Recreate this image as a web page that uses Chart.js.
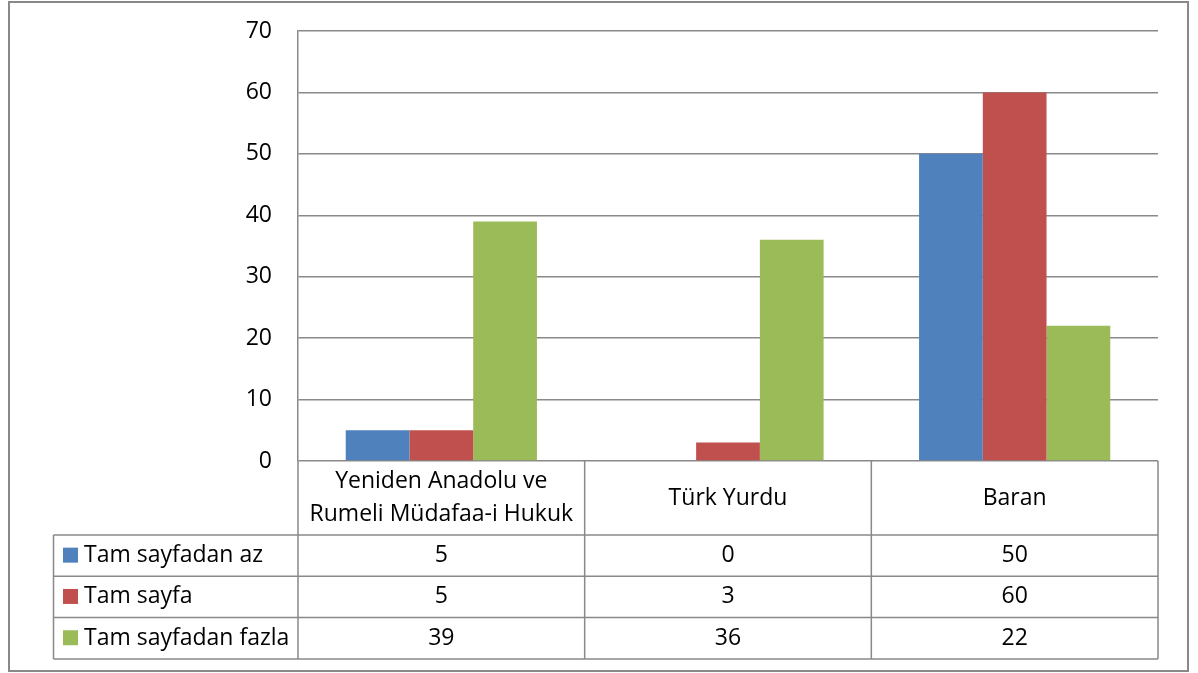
<!DOCTYPE html>
<html>
<head>
<meta charset="utf-8">
<script src="https://cdn.jsdelivr.net/npm/chart.js@4.4.1/dist/chart.umd.min.js"></script>
<style>
  html, body { margin: 0; padding: 0; background: #ffffff; }
  #wrap { width: 1198px; height: 673px; }
</style>
</head>
<body>
<div id="wrap"><canvas id="chart" width="1198" height="673"></canvas></div>
<script>
const categories = [["Yeniden Anadolu ve", "Rumeli Müdafaa-i Hukuk"], ["Türk Yurdu"], ["Baran"]];
const seriesNames = ["Tam sayfadan az", "Tam sayfa", "Tam sayfadan fazla"];
const tamSayfadanAz = [5, 0, 50];
const tamSayfa = [5, 3, 60];
const tamSayfadanFazla = [39, 36, 22];
const yTicks = [0, 10, 20, 30, 40, 50, 60, 70];

const colors = ['#4F81BD', '#C0504D', '#9BBB59'];
const lineColor = '#898989';
const font = '"Open Sans", "Noto Sans", sans-serif';

// draws the outer frame and the data table under the plot
const dataTable = {
    id: 'dataTable',
    beforeDraw(chart) {
        const ctx = chart.ctx;
        ctx.save();
        ctx.fillStyle = '#ffffff';
        ctx.fillRect(0, 0, chart.width, chart.height);
        ctx.strokeStyle = lineColor;
        ctx.lineWidth = 2;
        ctx.strokeRect(9, 2, 1179, 669);
        ctx.restore();
    },
    afterDraw(chart) {
        const ctx = chart.ctx;
        const area = chart.chartArea;
        const x = chart.scales.x;
        const top = area.bottom;
        const headerBottom = top + 74;
        const rowH = 41.3;
        const bottom = headerBottom + rowH * 3;
        const tableLeft = 53.5;
        const colW = (area.right - area.left) / categories.length;
        const rows = [tamSayfadanAz, tamSayfa, tamSayfadanFazla];

        ctx.save();
        ctx.strokeStyle = lineColor;
        ctx.lineWidth = 1.5;
        ctx.beginPath();
        // horizontal lines
        for (let r = 0; r <= 3; r++) {
            const yy = headerBottom + rowH * r;
            ctx.moveTo(tableLeft, yy);
            ctx.lineTo(area.right, yy);
        }
        // vertical lines
        ctx.moveTo(tableLeft, headerBottom);
        ctx.lineTo(tableLeft, bottom);
        for (let c = 0; c <= categories.length; c++) {
            const xx = area.left + colW * c;
            ctx.moveTo(xx, top);
            ctx.lineTo(xx, bottom);
        }
        ctx.stroke();

        ctx.fillStyle = '#000000';
        ctx.font = '23px ' + font;
        ctx.textAlign = 'center';
        ctx.textBaseline = 'middle';
        categories.forEach((lines, i) => {
            const cx = x.getPixelForValue(i);
            const mid = (top + headerBottom) / 2;
            const lh = 33;
            lines.forEach((t, j) => {
                ctx.fillText(t, cx, mid + (j - (lines.length - 1) / 2) * lh);
            });
        });

        rows.forEach((vals, r) => {
            const cy = headerBottom + rowH * r + rowH / 2;
            vals.forEach((v, i) => {
                ctx.textAlign = 'center';
                ctx.fillText(String(v), x.getPixelForValue(i), cy);
            });
            ctx.fillStyle = colors[r];
            ctx.fillRect(63, cy - 8, 15, 15);
            ctx.fillStyle = '#000000';
            ctx.textAlign = 'left';
            ctx.fillText(seriesNames[r], 84, cy);
        });
        ctx.restore();
    }
};

const chart = new Chart(document.getElementById('chart').getContext('2d'), {
    type: 'bar',
    data: {
        labels: categories,
        datasets: [
            { label: seriesNames[0], data: tamSayfadanAz, backgroundColor: colors[0] },
            { label: seriesNames[1], data: tamSayfa, backgroundColor: colors[1] },
            { label: seriesNames[2], data: tamSayfadanFazla, backgroundColor: colors[2] }
        ]
    },
    options: {
        responsive: false,
        animation: false,
        devicePixelRatio: 1,
        layout: { padding: { left: 0, top: 31, right: 40, bottom: 212 } },
        datasets: { bar: { barPercentage: 1, categoryPercentage: 0.667 } },
        plugins: {
            legend: { display: false },
            tooltip: { enabled: false }
        },
        scales: {
            x: {
                display: false
            },
            y: {
                min: 0,
                max: 70,
                afterFit: s => { s.width = 298; },
                afterBuildTicks: s => { s.ticks = yTicks.map(v => ({ value: v })); },
                ticks: {
                    padding: 0,
                    color: '#000000',
                    font: { family: font, size: 23 }
                },
                grid: { color: lineColor, lineWidth: 1.5, drawTicks: true, tickLength: 26, tickColor: 'rgba(0,0,0,0)' },
                border: { color: lineColor, width: 1.5 }
            }
        }
    },
    plugins: [dataTable]
});
</script>
</body>
</html>
